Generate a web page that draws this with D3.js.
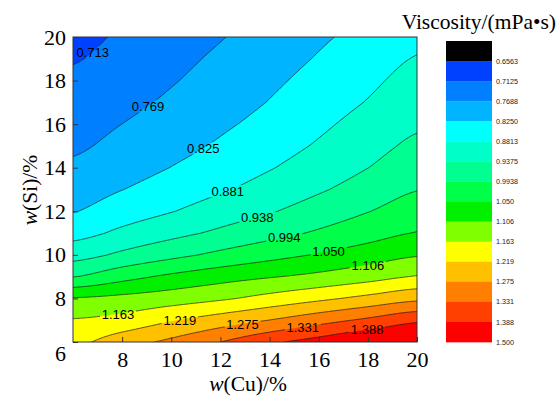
<!DOCTYPE html>
<html>
<head>
<meta charset="utf-8">
<script src="https://cdn.jsdelivr.net/npm/d3@7"></script>
<style>
  body { margin: 0; background: #fff; }
  svg { display: block; }
</style>
</head>
<body>
<script>
// grid: columns are w(Cu), rows are w(Si) from 20 down to 6
const gridCu = [6, 8, 10, 12, 14, 16, 18, 20];
const gridSi = [20, 19, 18, 17, 16, 15, 14, 13, 12, 11, 10, 9, 8, 7, 6];
const viscosity = [
  [0.697, 0.720, 0.743, 0.766, 0.791, 0.817, 0.842, 0.869],
  [0.709, 0.731, 0.754, 0.778, 0.803, 0.829, 0.856, 0.884],
  [0.722, 0.743, 0.765, 0.789, 0.815, 0.842, 0.870, 0.899],
  [0.735, 0.755, 0.777, 0.801, 0.827, 0.855, 0.884, 0.915],
  [0.747, 0.769, 0.791, 0.816, 0.842, 0.871, 0.901, 0.930],
  [0.761, 0.784, 0.807, 0.832, 0.859, 0.887, 0.917, 0.948],
  [0.777, 0.801, 0.826, 0.851, 0.878, 0.906, 0.937, 0.969],
  [0.799, 0.824, 0.849, 0.875, 0.902, 0.931, 0.961, 0.992],
  [0.823, 0.853, 0.879, 0.907, 0.933, 0.962, 0.992, 1.020],
  [0.862, 0.893, 0.921, 0.948, 0.975, 1.001, 1.027, 1.052],
  [0.915, 0.948, 0.978, 1.006, 1.031, 1.054, 1.077, 1.101],
  [0.992, 1.030, 1.061, 1.084, 1.102, 1.119, 1.140, 1.166],
  [1.110, 1.122, 1.136, 1.155, 1.181, 1.207, 1.234, 1.261],
  [1.167, 1.182, 1.215, 1.246, 1.276, 1.310, 1.342, 1.378],
  [1.205, 1.250, 1.288, 1.331, 1.377, 1.411, 1.448, 1.470]
];

const legendLevels = [0.6563, 0.7125, 0.7688, 0.8250, 0.8813, 0.9375, 0.9938, 1.050,
                      1.106, 1.163, 1.219, 1.275, 1.331, 1.388, 1.500];
const legendLabels = ['0.6563', '0.7125', '0.7688', '0.8250', '0.8813', '0.9375', '0.9938', '1.050',
                      '1.106', '1.163', '1.219', '1.275', '1.331', '1.388', '1.500'];
const bandColors = ['#000000', '#0040ff', '#0080ff', '#00b4ff', '#00ffff', '#00ffc8', '#00ff90',
                    '#00ff48', '#00f000', '#80ff00', '#ffff00', '#ffc000', '#ff8000', '#ff4000', '#ff0000'];

const lineLevels = [0.7125, 0.7688, 0.8250, 0.8813, 0.9375, 0.9938, 1.050, 1.106, 1.163, 1.219, 1.275, 1.331, 1.388];
const lineLabels = ['0.713', '0.769', '0.825', '0.881', '0.938', '0.994', '1.050', '1.106', '1.163', '1.219', '1.275', '1.331', '1.388'];
const labelCu = [6.8, 9.05, 11.3, 12.3, 13.5, 14.6, 16.4, 18.0, 7.83, 10.35, 12.9, 15.35, 17.97];

const cuTicks = [8, 10, 12, 14, 16, 18, 20];
const siTicks = [6, 8, 10, 12, 14, 16, 18, 20];

const W = 559, H = 398;
const m = { left: 73, right: 417, top: 37, bottom: 342 };

const svg = d3.select('body').append('svg')
    .attr('width', W)
    .attr('height', H);

const x = d3.scaleLinear().domain([6, 20]).range([m.left, m.right]);
const y = d3.scaleLinear().domain([6, 20]).range([m.bottom, m.top]);

// smooth along Cu (catmull-rom), linear along Si
function rowAt(row, u) {
    const n = row.length;
    u = Math.max(0, Math.min(n - 1, u));
    const i = Math.min(Math.floor(u), n - 2);
    const t = u - i;
    const p0 = row[Math.max(i - 1, 0)], p1 = row[i], p2 = row[i + 1], p3 = row[Math.min(i + 2, n - 1)];
    return 0.5 * (2 * p1 + (-p0 + p2) * t + (2 * p0 - 5 * p1 + 4 * p2 - p3) * t * t
        + (-p0 + 3 * p1 - 3 * p2 + p3) * t * t * t);
}
function field(cu, si) {
    const u = (cu - gridCu[0]) / (gridCu[1] - gridCu[0]);
    let r = (gridSi[0] - si) / (gridSi[0] - gridSi[1]);
    r = Math.max(0, Math.min(gridSi.length - 1, r));
    const r0 = Math.min(Math.floor(r), gridSi.length - 2);
    const f = r - r0;
    return (1 - f) * rowAt(viscosity[r0], u) + f * rowAt(viscosity[r0 + 1], u);
}

const step = 0.05;
const n = Math.round(14 / step) + 1;
const values = new Array(n * n);
for (let j = 0; j < n; j++) {
    for (let i = 0; i < n; i++) {
        values[i + j * n] = field(6 + i * step, 20 - j * step);
    }
}

const proj = d3.geoTransform({
    point(px, py) {
        this.stream.point(x(6 + (px - 0.5) * step), y(20 - (py - 0.5) * step));
    }
});
const path = d3.geoPath(proj);

svg.append('clipPath').attr('id', 'plot-clip')
    .append('rect')
    .attr('x', m.left).attr('y', m.top)
    .attr('width', m.right - m.left).attr('height', m.bottom - m.top);

const plot = svg.append('g').attr('clip-path', 'url(#plot-clip)');

// filled bands
const bands = d3.contours().size([n, n]).thresholds(legendLevels.slice(0, -1))(values);
plot.append('g')
    .selectAll('path')
    .data(bands)
    .enter().append('path')
    .attr('d', path)
    .attr('fill', (d, i) => bandColors[i + 1])
    .attr('stroke', (d, i) => bandColors[i + 1])
    .attr('stroke-width', 0.3);

// label positions: walk down the Si axis at the chosen Cu until the level is reached
const labels = lineLevels.map((lv, k) => {
    const cu = labelCu[k];
    let si = 20;
    while (si > 6 && field(cu, si) < lv) si -= 0.01;
    return { text: lineLabels[k], cx: x(cu), cy: y(si) };
});

const mask = svg.append('mask').attr('id', 'label-mask');
mask.append('rect').attr('x', 0).attr('y', 0).attr('width', W).attr('height', H).attr('fill', '#fff');
mask.selectAll('rect.hole')
    .data(labels)
    .enter().append('rect')
    .attr('class', 'hole')
    .attr('x', d => d.cx - 18)
    .attr('y', d => d.cy - 6)
    .attr('width', 36)
    .attr('height', 12)
    .attr('fill', '#000');

const lines = d3.contours().size([n, n]).thresholds(lineLevels)(values);
plot.append('g')
    .attr('mask', 'url(#label-mask)')
    .selectAll('path')
    .data(lines)
    .enter().append('path')
    .attr('d', path)
    .attr('fill', 'none')
    .attr('stroke', '#1a1a1a')
    .attr('stroke-width', 0.7);

plot.append('g')
    .selectAll('text')
    .data(labels)
    .enter().append('text')
    .attr('x', d => d.cx)
    .attr('y', d => d.cy)
    .attr('dy', '0.36em')
    .attr('text-anchor', 'middle')
    .style('font-family', '"Liberation Sans", Arial, sans-serif')
    .style('font-size', '13px')
    .style('fill', '#000')
    .text(d => d.text);

// frame
svg.append('rect')
    .attr('x', m.left).attr('y', m.top)
    .attr('width', m.right - m.left).attr('height', m.bottom - m.top)
    .attr('fill', 'none')
    .attr('stroke', '#333')
    .attr('stroke-width', 1);

// axes
const xAxis = svg.append('g')
    .attr('transform', `translate(0,${m.bottom})`)
    .call(d3.axisBottom(x).tickValues(cuTicks).tickSize(-5).tickPadding(9));
const yAxis = svg.append('g')
    .attr('transform', `translate(${m.left},0)`)
    .call(d3.axisLeft(y).tickValues(siTicks).tickSize(-5).tickPadding(7));

[xAxis, yAxis].forEach(a => {
    a.select('.domain').remove();
    a.selectAll('line').attr('stroke', '#333');
    a.selectAll('text')
        .style('font-family', '"Liberation Serif", "Times New Roman", serif')
        .style('font-size', '22px')
        .attr('fill', '#000');
});
yAxis.selectAll('.tick').filter(d => d === 6).select('text').attr('dy', '0.86em');

// axis titles
const xTitle = svg.append('text')
    .attr('x', 248).attr('y', 391)
    .attr('text-anchor', 'middle')
    .style('font-family', '"Liberation Serif", "Times New Roman", serif')
    .style('font-size', '21.5px');
xTitle.append('tspan').style('font-style', 'italic').text('w');
xTitle.append('tspan').text('(Cu)/%');

const yTitle = svg.append('text')
    .attr('transform', 'translate(37,190) rotate(-90)')
    .attr('text-anchor', 'middle')
    .style('font-family', '"Liberation Serif", "Times New Roman", serif')
    .style('font-size', '21.5px');
yTitle.append('tspan').style('font-style', 'italic').text('w');
yTitle.append('tspan').text('(Si)/%');

// colour legend
const legTop = 41, legStep = 20.07, legX = 446, legW = 46;
const legend = svg.append('g');
legend.selectAll('rect')
    .data(bandColors)
    .enter().append('rect')
    .attr('x', legX)
    .attr('y', (d, i) => legTop + i * legStep)
    .attr('width', legW)
    .attr('height', legStep + 0.3)
    .attr('fill', d => d);
legend.selectAll('text')
    .data(legendLabels)
    .enter().append('text')
    .attr('x', legX + legW + 4)
    .attr('y', (d, i) => legTop + (i + 1) * legStep)
    .attr('dy', '0.35em')
    .style('font-family', '"Liberation Sans", Arial, sans-serif')
    .style('font-size', '7.2px')
    .attr('fill', '#222')
    .text(d => d);

svg.append('text')
    .attr('x', 556).attr('y', 29)
    .attr('text-anchor', 'end')
    .style('font-family', '"Liberation Serif", "Times New Roman", serif')
    .style('font-size', '21.5px')
    .text('Viscosity/(mPa•s)');
</script>
</body>
</html>
